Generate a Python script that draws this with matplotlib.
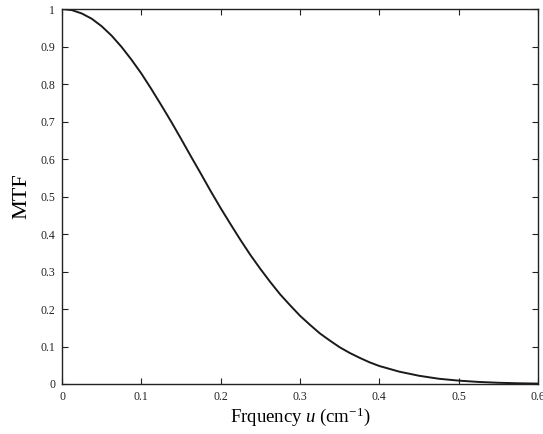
import numpy as np
import matplotlib
matplotlib.use("Agg")
import matplotlib.pyplot as plt

# values
freq = [0.0, 0.0125, 0.025, 0.0375, 0.05, 0.0625, 0.075, 0.0875, 0.1, 0.1125,
        0.125, 0.1375, 0.15, 0.1625, 0.175, 0.1875, 0.2, 0.2125, 0.225, 0.2375,
        0.25, 0.2625, 0.275, 0.2875, 0.3, 0.3125, 0.325, 0.3375, 0.35, 0.3625,
        0.375, 0.3875, 0.4, 0.425, 0.45, 0.475, 0.5, 0.525, 0.55, 0.575, 0.6]
mtf = [1.0, 0.997, 0.988, 0.974, 0.954, 0.929, 0.899, 0.865, 0.828, 0.787,
       0.744, 0.700, 0.654, 0.607, 0.561, 0.514, 0.469, 0.426, 0.384, 0.344,
       0.307, 0.272, 0.239, 0.210, 0.182, 0.158, 0.135, 0.116, 0.098, 0.083,
       0.070, 0.058, 0.048, 0.033, 0.022, 0.014, 0.009, 0.0055, 0.0033, 0.0019, 0.0011]
xticks = [0, 0.1, 0.2, 0.3, 0.4, 0.5, 0.6]
xtick_labels = ["0", "0.1", "0.2", "0.3", "0.4", "0.5", "0.6"]
yticks = [0, 0.1, 0.2, 0.3, 0.4, 0.5, 0.6, 0.7, 0.8, 0.9, 1]
ytick_labels = ["0", "0.1", "0.2", "0.3", "0.4", "0.5", "0.6", "0.7", "0.8", "0.9", "1"]

plt.rcParams["font.family"] = "Liberation Serif"
plt.rcParams["mathtext.fontset"] = "custom"
plt.rcParams["mathtext.rm"] = "Liberation Serif"
plt.rcParams["mathtext.it"] = "Liberation Serif:italic"

fig = plt.figure(figsize=(5.43, 4.34), dpi=100)
ax = fig.add_axes([62 / 543, 50 / 434, 476 / 543, 375 / 434])

ax.plot(freq, mtf, color="#1a1a1a", lw=1.4)
ax.set_xlim(0, 0.6)
ax.set_ylim(0, 1)
ax.set_xticks(xticks)
ax.set_yticks(yticks)
ax.set_xticklabels(xtick_labels)
ax.set_yticklabels(ytick_labels)
ax.tick_params(direction="in", length=4, width=0.8, top=True, right=True,
               labelsize=8.5, colors="#222222", pad=5)
for s in ax.spines.values():
    s.set_linewidth(1.0)
    s.set_color("#222222")

ax.set_ylabel("MTF", fontsize=16, labelpad=6)
ax.set_xlabel(r"Frquency $\mathit{u\ (}\mathrm{cm}^{\mathrm{-1}}\mathit{)}$",
              fontsize=13.5, labelpad=2)

fig.savefig("out.png", dpi=100)
